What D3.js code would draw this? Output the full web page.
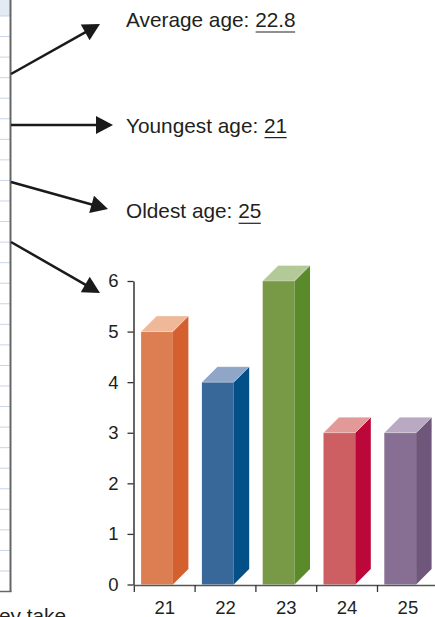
<!DOCTYPE html>
<html>
<head>
<meta charset="utf-8">
<script src="https://cdn.jsdelivr.net/npm/d3@7"></script>
<style>
  html, body { margin: 0; padding: 0; background: #fff; }
  svg { display: block; }
  text { font-family: "Liberation Sans", Arial, Helvetica, sans-serif; fill: #231f20; }
</style>
</head>
<body>
<svg id="chart" width="435" height="617"></svg>
<script>
// ---- data ----
const ages = ["21", "22", "23", "24", "25"];
const counts = [5, 4, 6, 3, 3];
const yTicks = [0, 1, 2, 3, 4, 5, 6];
const frontColors = ["#dd7e52", "#386799", "#789a47", "#cd5e62", "#866f92"];
const sideColors  = ["#d4602f", "#034f87", "#5a8a2a", "#bb073a", "#6e577a"];
const topColors   = ["#eeb899", "#8fa6c8", "#b3c998", "#e29a98", "#b9a9c2"];
const annotLabels = ["Average age:\u00a0", "Youngest age:\u00a0", "Oldest age:\u00a0"];
const annotValues = ["22.8", "21", "25"];
const trailingText = "ey take";

// ---- layout ----
const W = 435, H = 617;
const svg = d3.select("#chart");

const y = d3.scaleLinear().domain([0, 6]).range([584.5, 281]);
const x = d3.scaleBand().domain(ages).range([134.3, 134.3 + 5 * 60.8]).padding(0);
const barInset = 6.8, barW = 31.8, depth = 15.5;
const tickFont = 18.5, annotFont = 20.8;

// ---- left panel (spreadsheet-like strip) ----
const panel = svg.append("g");
panel.append("rect").attr("x", 0).attr("y", 0).attr("width", 10).attr("height", 16).attr("fill", "#e2eaf4");
const rowY = d3.scaleLinear().domain([0, 27]).range([16, 571]);
panel.selectAll("line.row").data(d3.range(28)).join("line")
  .attr("x1", 0).attr("x2", 10)
  .attr("y1", d => rowY(d)).attr("y2", d => rowY(d))
  .attr("stroke", "#c9d5e8").attr("stroke-width", 1);
panel.append("line").attr("x1", 10.5).attr("x2", 10.5).attr("y1", 0).attr("y2", 592)
  .attr("stroke", "#666").attr("stroke-width", 2);
panel.append("line").attr("x1", 0).attr("x2", 11.5).attr("y1", 591.5).attr("y2", 591.5)
  .attr("stroke", "#666").attr("stroke-width", 1.5);

svg.append("text").attr("x", -1).attr("y", 623).style("font-size", annotFont + "px").text(trailingText);

// ---- bars ----
const bars = svg.append("g");
counts.forEach((v, i) => {
  const x0 = x(ages[i]) + barInset, x1 = x0 + barW;
  const yt = y(v), yb = y(0);
  const g = bars.append("g");
  g.append("rect").attr("x", x0).attr("y", yt).attr("width", barW).attr("height", yb - yt)
    .attr("fill", frontColors[i]);
  g.append("polygon")
    .attr("points", [[x1, yt], [x1 + depth, yt - depth], [x1 + depth, yb - depth], [x1, yb]].map(p => p.join(",")).join(" "))
    .attr("fill", sideColors[i]);
  g.append("polygon")
    .attr("points", [[x0, yt], [x0 + depth, yt - depth], [x1 + depth, yt - depth], [x1, yt]].map(p => p.join(",")).join(" "))
    .attr("fill", topColors[i]).attr("stroke", "#fff").attr("stroke-opacity", 0.35).attr("stroke-width", 0.8);
});

// ---- axes ----
const yAxis = svg.append("g").attr("transform", "translate(133.5,0)")
  .call(d3.axisLeft(y).tickValues(yTicks).tickFormat(d3.format("d")).tickSize(6).tickSizeOuter(0).tickPadding(9));
yAxis.attr("font-size", null).attr("font-family", null);
yAxis.selectAll("text").style("font-size", tickFont + "px").attr("fill", "#231f20");
yAxis.select(".domain").attr("stroke", "#333").attr("stroke-width", 1.5);
yAxis.selectAll(".tick line").attr("stroke", "#333").attr("stroke-width", 1.3);

const xAxis = svg.append("g").attr("transform", `translate(0,${y(0) + 0.5})`)
  .call(d3.axisBottom(x).tickSize(0).tickSizeOuter(0).tickPadding(16.2));
xAxis.attr("font-size", null).attr("font-family", null);
xAxis.select(".domain").attr("stroke", "#555").attr("stroke-width", 1.5);
xAxis.selectAll("text").style("font-size", tickFont + "px").attr("fill", "#231f20");
xAxis.selectAll(".tick").append("line")
  .attr("x1", -x.bandwidth() / 2).attr("x2", -x.bandwidth() / 2)
  .attr("y1", 0).attr("y2", 7)
  .attr("stroke", "#333").attr("stroke-width", 1.3);

// ---- annotations ----
const annotBaseline = [27, 132.6, 218.3];
const annotX = 126;
annotLabels.forEach((lab, i) => {
  const t1 = svg.append("text").attr("x", annotX).attr("y", annotBaseline[i]).style("font-size", annotFont + "px").text(lab);
  const w1 = t1.node().getComputedTextLength();
  const t2 = svg.append("text").attr("x", annotX + w1).attr("y", annotBaseline[i]).style("font-size", annotFont + "px").text(annotValues[i]);
  const w2 = t2.node().getComputedTextLength();
  svg.append("line").attr("x1", annotX + w1 + 0.5).attr("x2", annotX + w1 + w2 - 0.5)
    .attr("y1", annotBaseline[i] + 5).attr("y2", annotBaseline[i] + 5)
    .attr("stroke", "#231f20").attr("stroke-width", 1.2);
});

// ---- arrows ----
const arrows = [
  [[11, 74], [100, 24]],
  [[11, 125], [113, 125]],
  [[11, 182], [108, 209]],
  [[11, 242], [100, 293]]
];
const headLen = 17, headHalf = 9;
arrows.forEach(([s, e]) => {
  const dx = e[0] - s[0], dy = e[1] - s[1];
  const L = Math.hypot(dx, dy), ux = dx / L, uy = dy / L;
  const bx = e[0] - ux * headLen, by = e[1] - uy * headLen;
  svg.append("line").attr("x1", s[0]).attr("y1", s[1]).attr("x2", bx + ux * 2).attr("y2", by + uy * 2)
    .attr("stroke", "#1a1a1a").attr("stroke-width", 2.5);
  svg.append("polygon")
    .attr("points", [[e[0], e[1]], [bx - uy * headHalf, by + ux * headHalf], [bx + uy * headHalf, by - ux * headHalf]].map(p => p.join(",")).join(" "))
    .attr("fill", "#1a1a1a");
});
</script>
</body>
</html>
